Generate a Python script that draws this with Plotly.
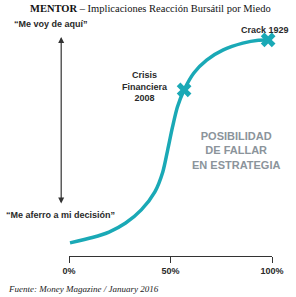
import plotly.graph_objects as go

# Curve data (x: % probability, y: fear reaction level, arbitrary 0-100)
curve_x = [0.5, 11.5, 19.7, 27.9, 35.6, 42.3, 46.2, 48.6, 51.0, 53.4, 56.7, 61.5, 67.8, 76.0, 85.6, 93.3, 98.1]
curve_y = [5.8, 8.2, 10.6, 14.6, 20.4, 28.4, 37.2, 46.9, 57.1, 65.9, 73.5, 81.0, 86.7, 91.2, 94.2, 95.5, 95.6]

event_names = ["Crisis<br>Financiera<br>2008", "Crack 1929"]
event_x = [56.7, 98.1]
event_y = [73.5, 95.6]

tick_vals = [0, 50, 100]
tick_text = ["0%", "50%", "100%"]

TEAL = "#1aa9b6"
DARK = "#2a2a2a"
W, H = 296, 297
L, R, T, B = 69, 19, 30, 41
PW, PH = W - L - R, H - T - B

def px(x):
    return (x - L) / PW

def py(y):
    return (H - B - y) / PH

fig = go.Figure()
fig.add_trace(go.Scatter(x=curve_x, y=curve_y, mode="lines",
                         line=dict(color=TEAL, width=3.5, shape="spline", smoothing=0.7),
                         hoverinfo="skip", showlegend=False, cliponaxis=False))
fig.add_trace(go.Scatter(x=event_x, y=event_y, mode="markers",
                         marker=dict(symbol="x", size=13, color=TEAL),
                         hoverinfo="skip", showlegend=False, cliponaxis=False))

sans = "Liberation Sans, Arial, sans-serif"
serif = "Liberation Serif, Times New Roman, serif"

ann = []
ann.append(dict(text="<b>MENTOR</b> – Implicaciones Reacción Bursátil por Miedo",
                xref="paper", yref="paper", x=px(153), y=py(9), xanchor="center", yanchor="middle",
                showarrow=False, font=dict(family=serif, size=10.5, color="#111")))
ann.append(dict(text="“Me voy de aquí”", xref="paper", yref="paper", x=px(51), y=py(24),
                xanchor="center", yanchor="middle", showarrow=False,
                font=dict(family=sans, size=9, color=DARK, weight="bold")))
ann.append(dict(text="“Me aferro a mi decisión”", xref="paper", yref="paper", x=px(60), y=py(215),
                xanchor="center", yanchor="middle", showarrow=False,
                font=dict(family=sans, size=9, color=DARK, weight="bold")))
ann.append(dict(text="", xref="paper", yref="paper", x=px(61), y=py(37), ax=0, ay=168,
                showarrow=True, arrowhead=2, arrowside="end+start", arrowsize=1, arrowwidth=1.2,
                arrowcolor="#333", standoff=0, startstandoff=0))
ann.append(dict(text="<b>" + event_names[0] + "</b>", xref="paper", yref="paper", x=px(147), y=py(87),
                xanchor="center", yanchor="middle", showarrow=False,
                font=dict(family=sans, size=9, color=DARK)))
ann.append(dict(text="<b>" + event_names[1] + "</b>", xref="paper", yref="paper", x=px(270), y=py(30),
                xanchor="center", yanchor="middle", showarrow=False,
                font=dict(family=sans, size=9, color=DARK)))
ann.append(dict(text="<b>POSIBILIDAD<br>DE FALLAR<br>EN ESTRATEGIA</b>", xref="paper", yref="paper",
                x=px(240), y=py(150), xanchor="center", yanchor="middle", showarrow=False,
                font=dict(family=sans, size=11, color="#8b949b")))
ann.append(dict(text="<i>Fuente: Money Magazine / January 2016</i>", xref="paper", yref="paper",
                x=px(4), y=py(289), xanchor="left", yanchor="middle", showarrow=False,
                font=dict(family=serif, size=9, color="#222")))

fig.update_layout(
    width=W, height=H,
    margin=dict(l=L, r=R, t=T, b=B),
    paper_bgcolor="white", plot_bgcolor="white",
    annotations=ann,
    xaxis=dict(range=[0, 100], tickvals=tick_vals, ticktext=tick_text, showgrid=False,
               zeroline=False, showline=True, linecolor="#333", linewidth=1.2,
               ticks="outside", ticklen=6, tickcolor="#333", tickwidth=1.2,
               tickfont=dict(family=sans, size=9, color=DARK, weight="bold"), fixedrange=True),
    yaxis=dict(range=[0, 100], visible=False, fixedrange=True),
)

fig.write_html("out.html", config={"displayModeBar": False})
